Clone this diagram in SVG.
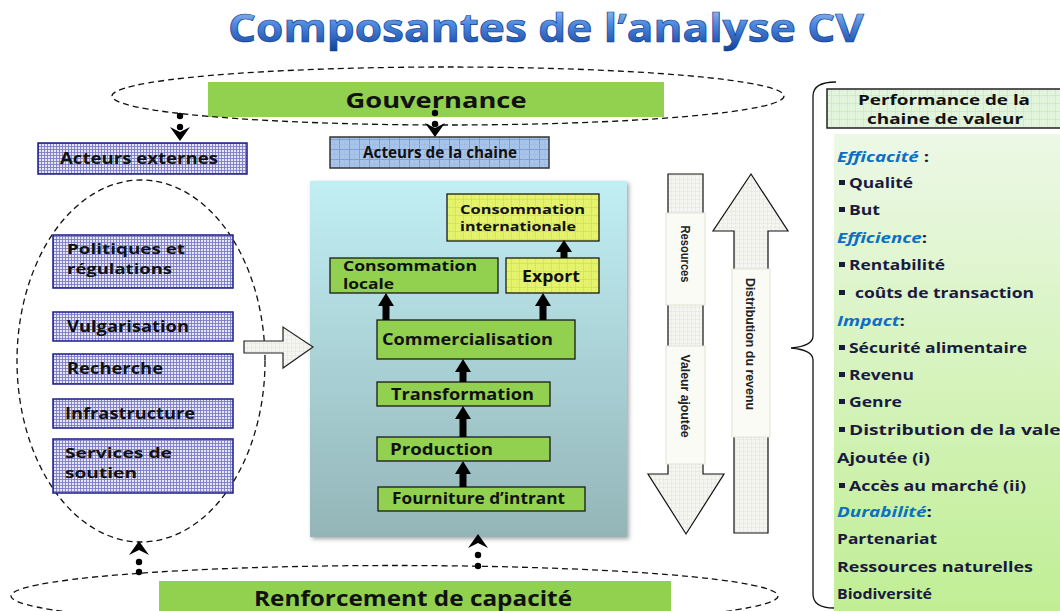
<svg xmlns="http://www.w3.org/2000/svg" width="1060" height="611" viewBox="0 0 1060 611">
<defs>
<style>
.t{font-family:"Open Sans","Liberation Sans",sans-serif;font-weight:bold;fill:#111;}
.dash{fill:none;stroke:#111;stroke-width:1.3;stroke-dasharray:6 4;}
.ext{fill:url(#pBlue);stroke:#1c1c8a;stroke-width:1.5;}
.grn{fill:#92d050;stroke:#1a1a1a;stroke-width:1.3;}
.yel{fill:url(#pYel);stroke:#1a1a1a;stroke-width:1.3;}
.blk{fill:#000;}
.rl{font-family:"Liberation Sans",Arial,sans-serif;font-weight:bold;font-size:12.5px;fill:#222;}
.lab{fill:#fbfbf6;stroke:#e2e2d6;stroke-width:1;}
.pt{font-family:"Open Sans","Liberation Sans",sans-serif;font-weight:bold;font-size:14px;fill:#1a1a3e;}
.pb{font-family:"Open Sans","Liberation Sans",sans-serif;font-weight:bold;font-style:italic;font-size:14px;fill:#0b6fc4;}
.bul{fill:#1a1a3e;}
</style>
<linearGradient id="gTitle" x1="0" y1="0" x2="0" y2="1">
<stop offset="0" stop-color="#c4dcfa"/><stop offset="0.45" stop-color="#4f8ae0"/><stop offset="1" stop-color="#0a3a94"/>
</linearGradient>
<linearGradient id="gPanel" x1="0" y1="0" x2="0" y2="1">
<stop offset="0" stop-color="#c1eff4"/><stop offset="1" stop-color="#93b5b8"/>
</linearGradient>
<linearGradient id="gRight" x1="0" y1="0" x2="0" y2="1">
<stop offset="0" stop-color="#ecf8e6"/><stop offset="1" stop-color="#c0ee94"/>
</linearGradient>
<pattern id="pBlue" width="3" height="3" patternUnits="userSpaceOnUse">
<rect width="3" height="3" fill="#e6e6f8"/><path d="M0 2.5H3M2.5 0V3" stroke="#7c7cc6" stroke-width="0.9"/>
</pattern>
<pattern id="pChain" width="10" height="10" patternUnits="userSpaceOnUse">
<rect width="10" height="10" fill="#a9c4e9"/><path d="M0 9.5H10M9.5 0V10" stroke="#7b9fd6" stroke-width="1"/><path d="M0 4.5H10M4.5 0V10" stroke="#9bb8e2" stroke-width="0.6"/>
</pattern>
<pattern id="pYel" width="8" height="8" patternUnits="userSpaceOnUse">
<rect width="8" height="8" fill="#e5f36c"/><path d="M0 7.5H8M7.5 0V8" stroke="#d0df55" stroke-width="0.8"/>
</pattern>
<pattern id="pHdr" width="8" height="8" patternUnits="userSpaceOnUse">
<rect width="8" height="8" fill="#e3f4dd"/><path d="M0 7.5H8M7.5 0V8" stroke="#cce8c4" stroke-width="0.8"/>
</pattern>
<pattern id="pArr" width="4" height="4" patternUnits="userSpaceOnUse">
<rect width="4" height="4" fill="#f5f5f1"/><path d="M0 3.5H4M3.5 0V4" stroke="#e6e6df" stroke-width="0.6"/>
</pattern>
<filter id="sh" x="-10%" y="-10%" width="120%" height="120%">
<feDropShadow dx="2" dy="2" stdDeviation="2" flood-color="#000" flood-opacity="0.35"/>
</filter>
<path id="stealthDown" d="M-10 0 L0 14 L10 0 L0 5 Z"/>
<path id="stealthUp" d="M-10 0 L0 -14 L10 0 L0 -5 Z"/>
</defs>

<rect width="1060" height="611" fill="#fff"/>

<g id="title">
<text x="546" y="42" text-anchor="middle" font-family="'Open Sans','Liberation Sans',sans-serif" font-weight="bold" font-size="40" fill="url(#gTitle)" stroke="#0d3f96" stroke-width="0.7" textLength="636" lengthAdjust="spacingAndGlyphs">Composantes de l’analyse CV</text>
</g>

<g id="gouvernance">
<rect x="208" y="82" width="456" height="35" fill="#92d050"/>
<ellipse cx="448" cy="96" rx="336" ry="29" class="dash"/>
<text class="t" x="436" y="108" text-anchor="middle" font-size="22" textLength="181" lengthAdjust="spacingAndGlyphs">Gouvernance</text>
</g>

<g id="acteurs-externes">
<rect x="38" y="143" width="209" height="31" class="ext"/>
<text class="t" x="60" y="164" font-size="16" textLength="158" lengthAdjust="spacingAndGlyphs">Acteurs externes</text>
</g>

<g id="acteurs-chaine">
<rect x="330" y="137" width="219" height="31" fill="url(#pChain)" stroke="#333" stroke-width="1.5"/>
<text class="t" x="440" y="158" text-anchor="middle" font-size="16" textLength="154" lengthAdjust="spacingAndGlyphs">Acteurs de la chaine</text>
</g>

<g id="externes-groupe">
<ellipse cx="141" cy="361" rx="124" ry="181" class="dash"/>
</g>
<g id="politiques">
<rect x="53" y="235" width="180" height="53" class="ext"/>
<text class="t" x="67" y="254" font-size="15" textLength="118" lengthAdjust="spacingAndGlyphs">Politiques et</text>
<text class="t" x="67" y="274" font-size="15" textLength="105" lengthAdjust="spacingAndGlyphs">régulations</text>
</g>
<g id="vulgarisation">
<rect x="53" y="312" width="180" height="29" class="ext"/>
<text class="t" x="67" y="332" font-size="16" textLength="122" lengthAdjust="spacingAndGlyphs">Vulgarisation</text>
</g>
<g id="recherche">
<rect x="53" y="354" width="180" height="30" class="ext"/>
<text class="t" x="67" y="374" font-size="16" textLength="96" lengthAdjust="spacingAndGlyphs">Recherche</text>
</g>
<g id="infrastructure">
<rect x="53" y="399" width="180" height="29" class="ext"/>
<text class="t" x="65" y="419" font-size="16" textLength="130" lengthAdjust="spacingAndGlyphs">Infrastructure</text>
</g>
<g id="services">
<rect x="53" y="439" width="180" height="54" class="ext"/>
<text class="t" x="65" y="458" font-size="15" textLength="107" lengthAdjust="spacingAndGlyphs">Services de</text>
<text class="t" x="65" y="478" font-size="15" textLength="72" lengthAdjust="spacingAndGlyphs">soutien</text>
</g>

<g id="panneau-chaine">
<rect x="310" y="181" width="317" height="356" fill="url(#gPanel)" filter="url(#sh)"/>
</g>
<g id="consommation-internationale">
<rect x="447" y="194" width="152" height="47" class="yel"/>
<text class="t" x="460" y="214" font-size="13" textLength="125" lengthAdjust="spacingAndGlyphs">Consommation</text>
<text class="t" x="460" y="231" font-size="13" textLength="116" lengthAdjust="spacingAndGlyphs">internationale</text>
</g>
<g id="consommation-locale">
<rect x="330" y="258" width="168" height="35" class="grn"/>
<text class="t" x="343" y="271" font-size="14" textLength="134" lengthAdjust="spacingAndGlyphs">Consommation</text>
<text class="t" x="343" y="289" font-size="14" textLength="51" lengthAdjust="spacingAndGlyphs">locale</text>
</g>
<g id="export">
<rect x="506" y="258" width="93" height="35" class="yel"/>
<text class="t" x="522" y="282" font-size="16" textLength="58" lengthAdjust="spacingAndGlyphs">Export</text>
</g>
<g id="commercialisation">
<rect x="377" y="320" width="198" height="39" class="grn"/>
<text class="t" x="382" y="345" font-size="16" textLength="171" lengthAdjust="spacingAndGlyphs">Commercialisation</text>
</g>
<g id="transformation">
<rect x="377" y="382" width="173" height="24" class="grn"/>
<text class="t" x="391" y="400" font-size="16" textLength="143" lengthAdjust="spacingAndGlyphs">Transformation</text>
</g>
<g id="production">
<rect x="377" y="437" width="173" height="24" class="grn"/>
<text class="t" x="390" y="455" font-size="16" textLength="103" lengthAdjust="spacingAndGlyphs">Production</text>
</g>
<g id="fourniture">
<rect x="378" y="487" width="207" height="24" class="grn"/>
<text class="t" x="392" y="504" font-size="16" textLength="173" lengthAdjust="spacingAndGlyphs">Fourniture d’intrant</text>
</g>

<g id="renforcement">
<rect x="159" y="581" width="512" height="32" fill="#92d050"/>
<ellipse cx="394.5" cy="596" rx="383.5" ry="30.5" class="dash"/>
<text class="t" x="413" y="606" text-anchor="middle" font-size="21" textLength="318" lengthAdjust="spacingAndGlyphs">Renforcement de capacité</text>
</g>

<g id="fleche-ressources">
<polygon points="668,174 703,174 703,474 724,474 686,534 648,474 668,474" fill="url(#pArr)" stroke="#111" stroke-width="1.2"/>
<rect x="666" y="213" width="39" height="92" class="lab"/>
<rect x="666" y="346" width="39" height="118" class="lab"/>
<text class="rl" transform="translate(681,254) rotate(90)" text-anchor="middle" textLength="57" lengthAdjust="spacingAndGlyphs">Resources</text>
<text class="rl" transform="translate(681,396) rotate(90)" text-anchor="middle" textLength="83" lengthAdjust="spacingAndGlyphs">Valeur ajoutée</text>
</g>
<g id="fleche-distribution">
<polygon points="751,174 788,231 768,231 768,533 734,533 734,231 713,231" fill="url(#pArr)" stroke="#111" stroke-width="1.2"/>
<rect x="732" y="269" width="38" height="168" class="lab"/>
<text class="rl" transform="translate(746,344) rotate(90)" text-anchor="middle" textLength="132" lengthAdjust="spacingAndGlyphs">Distribution du revenu</text>
</g>

<g id="accolade">
<path d="M836 82 Q813 82 813 96 L813 336 Q813 346 791 348 Q813 350 813 360 L813 594 Q813 608 834 608" fill="none" stroke="#111" stroke-width="1.3"/>
</g>
<g id="performance">
<rect x="834" y="134" width="230" height="480" fill="url(#gRight)"/>
<rect x="827" y="89" width="240" height="39" fill="url(#pHdr)" stroke="#222" stroke-width="1.5"/>
<text class="t" x="944" y="105" text-anchor="middle" font-size="14" textLength="172" lengthAdjust="spacingAndGlyphs">Performance de la</text>
<text class="t" x="945" y="124" text-anchor="middle" font-size="14" textLength="156" lengthAdjust="spacingAndGlyphs">chaine de valeur</text>
<text class="pb" x="837" y="162" textLength="92" lengthAdjust="spacingAndGlyphs">Efficacité <tspan fill="#1a1a3e" font-style="normal">:</tspan></text>
<rect class="bul" x="839" y="180" width="6" height="5"/>
<text class="pt" x="849" y="188" textLength="64" lengthAdjust="spacingAndGlyphs">Qualité</text>
<rect class="bul" x="839" y="207" width="6" height="5"/>
<text class="pt" x="849" y="215" textLength="31" lengthAdjust="spacingAndGlyphs">But</text>
<text class="pb" x="837" y="243" textLength="90" lengthAdjust="spacingAndGlyphs">Efficience<tspan fill="#1a1a3e" font-style="normal">:</tspan></text>
<rect class="bul" x="839" y="262" width="6" height="5"/>
<text class="pt" x="849" y="270" textLength="96" lengthAdjust="spacingAndGlyphs">Rentabilité</text>
<rect class="bul" x="839" y="290" width="6" height="5"/>
<text class="pt" x="855" y="298" textLength="179" lengthAdjust="spacingAndGlyphs">coûts de transaction</text>
<text class="pb" x="837" y="326" textLength="68" lengthAdjust="spacingAndGlyphs">Impact<tspan fill="#1a1a3e" font-style="normal">:</tspan></text>
<rect class="bul" x="839" y="345" width="6" height="5"/>
<text class="pt" x="849" y="353" textLength="178" lengthAdjust="spacingAndGlyphs">Sécurité alimentaire</text>
<rect class="bul" x="839" y="372" width="6" height="5"/>
<text class="pt" x="849" y="380" textLength="65" lengthAdjust="spacingAndGlyphs">Revenu</text>
<rect class="bul" x="839" y="399" width="6" height="5"/>
<text class="pt" x="849" y="407" textLength="53" lengthAdjust="spacingAndGlyphs">Genre</text>
<rect class="bul" x="839" y="427" width="6" height="5"/>
<text class="pt" x="849" y="435" textLength="233" lengthAdjust="spacingAndGlyphs">Distribution de la valeur</text>
<text class="pt" x="837" y="463" textLength="93" lengthAdjust="spacingAndGlyphs">Ajoutée (i)</text>
<rect class="bul" x="839" y="483" width="6" height="5"/>
<text class="pt" x="849" y="491" textLength="177" lengthAdjust="spacingAndGlyphs">Accès au marché (ii)</text>
<text class="pb" x="837" y="517" textLength="95" lengthAdjust="spacingAndGlyphs">Durabilité<tspan fill="#1a1a3e" font-style="normal">:</tspan></text>
<text class="pt" x="837" y="544" textLength="100" lengthAdjust="spacingAndGlyphs">Partenariat</text>
<text class="pt" x="837" y="572" textLength="196" lengthAdjust="spacingAndGlyphs">Ressources  naturelles</text>
<text class="pt" x="837" y="599" textLength="95" lengthAdjust="spacingAndGlyphs">Biodiversité</text>
</g>

<g id="connecteurs">
<polygon points="244,341 283,341 283,327 313,347 283,368 283,353 244,353" fill="url(#pArr)" stroke="#222" stroke-width="1.2"/>
<polygon class="blk" points="560.5,258 560.5,252 556,252 564,240 572,252 567.5,252 567.5,258"/>
<polygon class="blk" points="382.5,320 382.5,306 378,306 386,293 394,306 389.5,306 389.5,320"/>
<polygon class="blk" points="539.5,320 539.5,306 535,306 543,293 551,306 546.5,306 546.5,320"/>
<polygon class="blk" points="459.5,382 459.5,372 455,372 463,359 471,372 466.5,372 466.5,382"/>
<polygon class="blk" points="459.5,437 459.5,419 455,419 463,406 471,419 466.5,419 466.5,437"/>
<polygon class="blk" points="459.5,487 459.5,474 455,474 463,461 471,474 466.5,474 466.5,487"/>
<circle cx="180" cy="116" r="3.2"/>
<circle cx="180" cy="127" r="3.2"/>
<use href="#stealthDown" x="180" y="127"/>
<circle cx="435" cy="113" r="3.2"/>
<circle cx="435" cy="124" r="3.2"/>
<use href="#stealthDown" x="435" y="123"/>
<circle cx="139" cy="572" r="3.2"/>
<circle cx="139" cy="562" r="3.2"/>
<use href="#stealthUp" x="139" y="555"/>
<circle cx="478" cy="566" r="3.2"/>
<circle cx="478" cy="555" r="3.2"/>
<use href="#stealthUp" x="478" y="548"/>
</g>
</svg>
